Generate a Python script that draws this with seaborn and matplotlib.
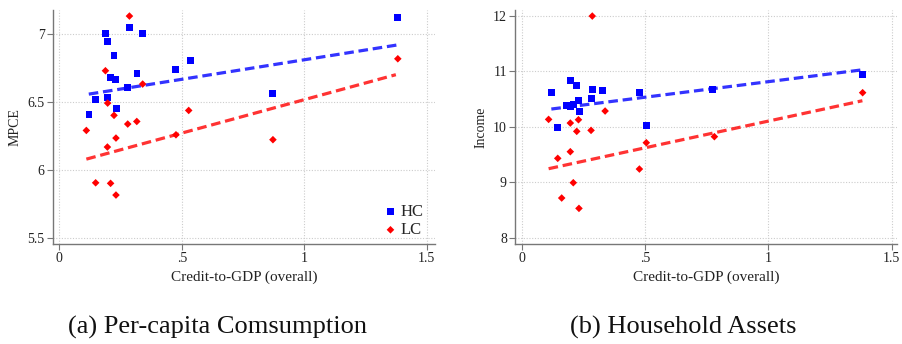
import numpy as np
import pandas as pd
import matplotlib
matplotlib.use("Agg")
import matplotlib.pyplot as plt
import seaborn as sns

# ---- data ----
mpce_hc_x = [0.120, 0.148, 0.189, 0.197, 0.197, 0.209, 0.222, 0.230, 0.234, 0.279,
             0.287, 0.316, 0.340, 0.475, 0.536, 0.870, 1.380]
mpce_hc_y = [6.407, 6.517, 7.002, 6.944, 6.532, 6.679, 6.841, 6.664, 6.451, 6.605,
             7.047, 6.708, 7.002, 6.738, 6.804, 6.561, 7.120]
mpce_lc_x = [0.110, 0.148, 0.188, 0.197, 0.196, 0.209, 0.223, 0.231, 0.231, 0.279,
             0.286, 0.316, 0.340, 0.476, 0.528, 0.872, 1.382]
mpce_lc_y = [6.289, 5.904, 6.728, 6.490, 6.167, 5.900, 6.400, 6.233, 5.814, 6.336,
             7.130, 6.355, 6.630, 6.257, 6.436, 6.221, 6.816]

inc_hc_x = [0.120, 0.145, 0.181, 0.197, 0.197, 0.209, 0.222, 0.230, 0.234, 0.282,
            0.286, 0.327, 0.477, 0.505, 0.773, 1.381]
inc_hc_y = [10.623, 9.991, 10.388, 10.839, 10.370, 10.406, 10.749, 10.478, 10.280, 10.514,
            10.677, 10.659, 10.623, 10.027, 10.677, 10.947]
inc_lc_x = [0.109, 0.146, 0.162, 0.197, 0.197, 0.209, 0.223, 0.230, 0.232, 0.281,
            0.286, 0.338, 0.477, 0.505, 0.781, 1.382]
inc_lc_y = [10.135, 9.432, 8.716, 10.069, 9.552, 8.992, 9.919, 10.129, 8.529, 9.937,
            12.000, 10.286, 9.239, 9.714, 9.823, 10.617]

# fitted lines as shown in the reference (endpoints)
mpce_hc_fit_x = [0.120, 1.378]
mpce_hc_fit_y = [6.556, 6.917]
mpce_lc_fit_x = [0.110, 1.374]
mpce_lc_fit_y = [6.078, 6.699]
inc_hc_fit_x = [0.120, 1.374]
inc_hc_fit_y = [10.322, 11.026]
inc_lc_fit_x = [0.109, 1.381]
inc_lc_fit_y = [9.245, 10.472]

groups = ["HC", "LC"]
x_label = "Credit-to-GDP (overall)"
y_labels = ["MPCE", "Income"]
captions = ["(a) Per-capita Comsumption", "(b) Household Assets"]
x_ticks = [0, 0.5, 1, 1.5]
x_ticklabels = ["0", ".5", "1", "1.5"]
mpce_ticks = [5.5, 6, 6.5, 7]
mpce_ticklabels = ["5.5", "6", "6.5", "7"]
inc_ticks = [8, 9, 10, 11, 12]
inc_ticklabels = ["8", "9", "10", "11", "12"]

sns.set_theme(style="white")
plt.rcParams["font.family"] = ["Liberation Serif", "DejaVu Serif"]

colors = {"HC": "#0000ff", "LC": "#ff0000"}
markers = {"HC": "s", "LC": "D"}
sizes = {"HC": 22, "LC": 15}

fig = plt.figure(figsize=(9.02, 3.44), dpi=100)
ax1 = fig.add_axes([0.0588, 0.2907, 0.4235, 0.680])
ax2 = fig.add_axes([0.5713, 0.2907, 0.4228, 0.680])


def make_df(hx, hy, lx, ly):
    return pd.DataFrame({
        "x": list(hx) + list(lx),
        "y": list(hy) + list(ly),
        "g": ["HC"] * len(hx) + ["LC"] * len(lx),
    })


dfs = [make_df(mpce_hc_x, mpce_hc_y, mpce_lc_x, mpce_lc_y),
       make_df(inc_hc_x, inc_hc_y, inc_lc_x, inc_lc_y)]
fits = [make_df(mpce_hc_fit_x, mpce_hc_fit_y, mpce_lc_fit_x, mpce_lc_fit_y),
        make_df(inc_hc_fit_x, inc_hc_fit_y, inc_lc_fit_x, inc_lc_fit_y)]

for ax, df, fit, ylab, yt, ytl, xlim, ylim in [
        (ax1, dfs[0], fits[0], y_labels[0], mpce_ticks, mpce_ticklabels, (-0.026, 1.534), (5.454, 7.174)),
        (ax2, dfs[1], fits[1], y_labels[1], inc_ticks, inc_ticklabels, (-0.026, 1.52), (7.886, 12.108))]:
    ax.set_axisbelow(True)
    for g in groups:
        sub = df[df["g"] == g]
        sns.scatterplot(data=sub, x="x", y="y", ax=ax, marker=markers[g], s=sizes[g],
                        color=colors[g], edgecolor="none", linewidth=0, zorder=3, label=g)
        fsub = fit[fit["g"] == g]
        sns.lineplot(data=fsub, x="x", y="y", ax=ax, color=colors[g],
                     linestyle=(0, (3.0, 1.5)), linewidth=2.3, alpha=0.8,
                     legend=False, zorder=2)
    ax.set_xlim(*xlim)
    ax.set_ylim(*ylim)
    ax.set_xticks(x_ticks)
    ax.set_xticklabels(x_ticklabels)
    ax.set_yticks(yt)
    ax.set_yticklabels(ytl)
    ax.grid(True, linestyle=(0, (1, 1.5)), color="#cccccc", linewidth=0.8)
    for s in ["top", "right"]:
        ax.spines[s].set_visible(False)
    for s in ["left", "bottom"]:
        ax.spines[s].set_color("#777777")
        ax.spines[s].set_linewidth(1.0)
    ax.tick_params(axis="both", direction="out", length=4, width=0.8, color="#777777",
                   labelsize=10, labelcolor="#222222", bottom=True, left=True, pad=2)
    ax.set_xlabel(x_label, fontsize=11, color="#222222", labelpad=4)
    ax.set_ylabel(ylab, fontsize=10, color="#222222", labelpad=4)

if ax2.get_legend() is not None:
    ax2.get_legend().remove()
leg = ax1.legend(loc="lower right", bbox_to_anchor=(0.985, 0.0), frameon=False, fontsize=12,
                 handletextpad=0.1, markerscale=1.0, borderaxespad=0.05, labelspacing=0.15,
                 handlelength=1.0, borderpad=0.3)

fig.text(0.241, 0.048, captions[0], ha="center", va="center", fontsize=19, color="#111111")
fig.text(0.757, 0.048, captions[1], ha="center", va="center", fontsize=19, color="#111111")

fig.savefig("out.png", dpi=100, facecolor="white")
